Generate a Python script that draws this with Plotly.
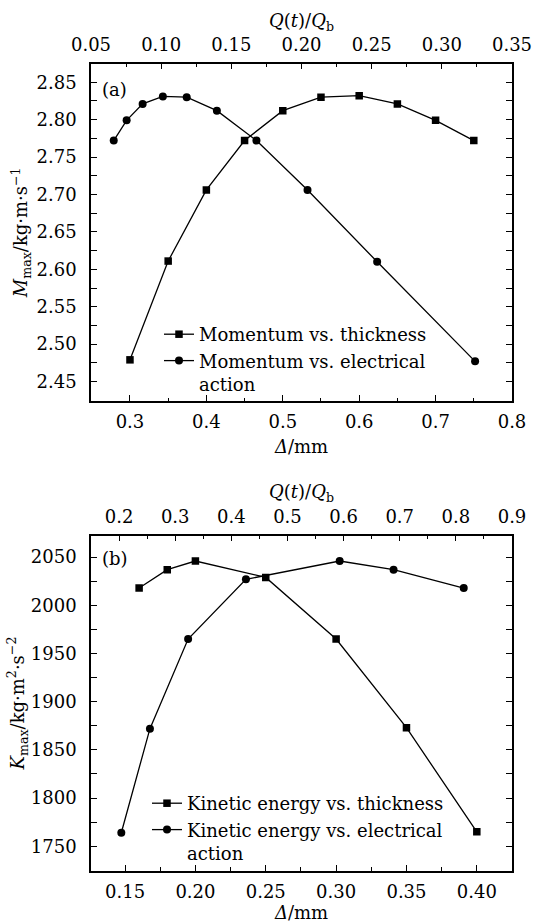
import plotly.graph_objects as go

# ---------------- data ----------------
# Panel (a): momentum
delta_a = [0.30, 0.35, 0.40, 0.45, 0.50, 0.55, 0.60, 0.65, 0.70, 0.75]
mom_thick = [2.479, 2.611, 2.706, 2.772, 2.812, 2.830, 2.832, 2.821, 2.799, 2.772]
q_a = [0.0662, 0.0754, 0.0868, 0.1012, 0.1182, 0.1397, 0.1679, 0.2043, 0.2539, 0.3237]
mom_elec = [2.772, 2.799, 2.821, 2.831, 2.830, 2.812, 2.772, 2.706, 2.610, 2.477]

# Panel (b): kinetic energy
delta_b = [0.16, 0.18, 0.20, 0.25, 0.30, 0.35, 0.40]
ke_thick = [2018, 2037, 2046, 2029, 1965, 1873, 1765]
q_b = [0.204, 0.255, 0.323, 0.426, 0.593, 0.689, 0.814]
ke_elec = [1764, 1872, 1965, 2027, 2046, 2037, 2018]

names_a = ["Momentum vs. thickness", "Momentum vs. electrical<br>action"]
names_b = ["Kinetic energy vs. thickness", "Kinetic energy vs. electrical<br>action"]

FONT = "DejaVu Serif"
FS = 18
FS_LEG = 18
W, H = 535, 924

def px_x(p):
    return p / W

def px_y(p):
    return 1 - p / H

fig = go.Figure()

line = dict(color="black", width=1.3)
fig.add_trace(go.Scatter(x=delta_a, y=mom_thick, mode="lines+markers", name=names_a[0],
                         line=line, marker=dict(symbol="square", size=7.5, color="black"),
                         xaxis="x", yaxis="y", legend="legend"))
fig.add_trace(go.Scatter(x=q_a, y=mom_elec, mode="lines+markers", name=names_a[1],
                         line=line, marker=dict(symbol="circle", size=8, color="black"),
                         xaxis="x2", yaxis="y", legend="legend"))
fig.add_trace(go.Scatter(x=delta_b, y=ke_thick, mode="lines+markers", name=names_b[0],
                         line=line, marker=dict(symbol="square", size=7.5, color="black"),
                         xaxis="x3", yaxis="y2", legend="legend2"))
fig.add_trace(go.Scatter(x=q_b, y=ke_elec, mode="lines+markers", name=names_b[1],
                         line=line, marker=dict(symbol="circle", size=8, color="black"),
                         xaxis="x4", yaxis="y2", legend="legend2"))

xdom = [px_x(91), px_x(512)]
ydom_a = [px_y(401), px_y(63.5)]
ydom_b = [px_y(870.5), px_y(535.5)]

tickfont = dict(family=FONT, size=FS, color="black")
titlefont = dict(family=FONT, size=FS, color="black")

def axis_common(dtick, minor_dtick, fmt, rng):
    return dict(range=rng, dtick=dtick, tickformat=fmt, ticks="inside", ticklen=6,
                tickwidth=1.2, tickcolor="black", showline=True, linecolor="black",
                linewidth=1.5, showgrid=False, zeroline=False, tickfont=tickfont,
                minor=dict(dtick=minor_dtick, ticks="inside", ticklen=3.5,
                           tickwidth=1.1, tickcolor="black", showgrid=False),
                automargin=False)

xa = axis_common(0.1, 0.05, ".1f", [0.249, 0.8])
xa.update(domain=xdom, anchor="y", side="bottom", tick0=0.3, ticklabelstandoff=4,
          title=dict(text="<i>Δ</i>/mm", font=titlefont, standoff=9))
xa2 = axis_common(0.05, 0.025, ".2f", [0.05, 0.35])
xa2.update(domain=xdom, anchor="y", side="top", overlaying="x", tick0=0.05,
           ticklabelstandoff=4,
           title=dict(text="<i>Q</i>(<i>t</i>)/<i>Q</i><sub>b</sub>", font=titlefont, standoff=0))
ya = axis_common(0.05, 0.025, ".2f", [2.424, 2.875])
ya.update(domain=ydom_a, anchor="x", mirror="allticks", tick0=2.45, ticklabelstandoff=9,
          title=dict(text="<i>M</i><sub>max</sub>/kg·m·s<sup>−1</sup>", font=titlefont, standoff=4))

xb = axis_common(0.05, 0.025, ".2f", [0.1258, 0.425])
xb.update(domain=xdom, anchor="y2", side="bottom", tick0=0.15, ticklabelstandoff=4,
          title=dict(text="<i>Δ</i>/mm", font=titlefont, standoff=4))
xb2 = axis_common(0.1, 0.05, ".1f", [0.15, 0.9])
xb2.update(domain=xdom, anchor="y2", side="top", overlaying="x3", tick0=0.2,
           ticklabelstandoff=4,
           title=dict(text="<i>Q</i>(<i>t</i>)/<i>Q</i><sub>b</sub>", font=titlefont, standoff=2))
yb = axis_common(50, 25, "d", [1724.8, 2072.5])
yb.update(domain=ydom_b, anchor="x3", mirror="allticks", tick0=1750, ticklabelstandoff=9,
          title=dict(text="<i>K</i><sub>max</sub>/kg·m<sup>2</sup>·s<sup>−2</sup>", font=titlefont, standoff=1))

legend_common = dict(bgcolor="rgba(0,0,0,0)", font=dict(family=FONT, size=FS_LEG, color="black"),
                     xanchor="left", yanchor="top", valign="top", tracegroupgap=0,
                     borderwidth=0, itemwidth=30)

fig.update_layout(
    width=W, height=H, autosize=False,
    margin=dict(l=0, r=0, t=0, b=0),
    paper_bgcolor="white", plot_bgcolor="white",
    font=dict(family=FONT, size=FS, color="black"),
    xaxis=xa, xaxis2=xa2, yaxis=ya,
    xaxis3=xb, xaxis4=xb2, yaxis2=yb,
    legend=dict(x=px_x(159), y=px_y(316), **legend_common),
    legend2=dict(x=px_x(147), y=px_y(785), **legend_common),
    showlegend=True,
    annotations=[
        dict(text="(a)", x=px_x(100), y=px_y(89), xref="paper", yref="paper",
             xanchor="left", yanchor="middle", showarrow=False,
             font=dict(family=FONT, size=FS, color="black")),
        dict(text="(b)", x=px_x(100), y=px_y(558), xref="paper", yref="paper",
             xanchor="left", yanchor="middle", showarrow=False,
             font=dict(family=FONT, size=FS, color="black")),
    ],
)

fig.write_html("out.html")
